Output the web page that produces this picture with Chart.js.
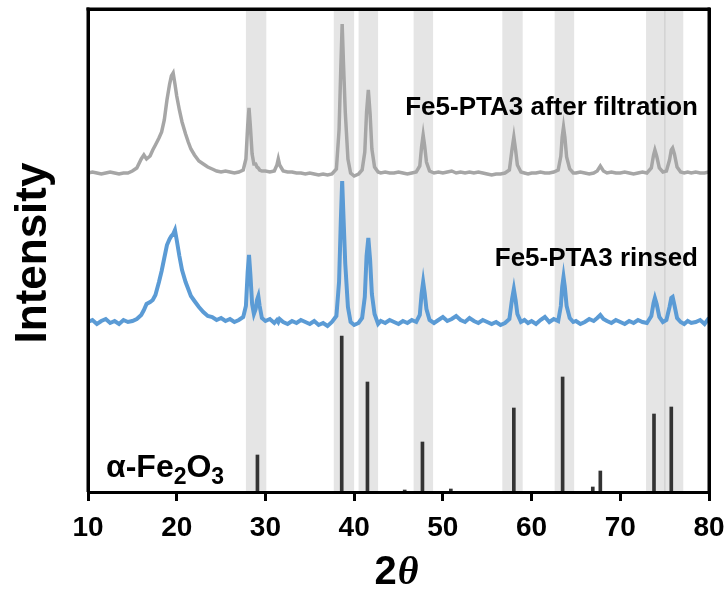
<!DOCTYPE html>
<html>
<head>
<meta charset="utf-8">
<script src="https://cdn.jsdelivr.net/npm/chart.js@4/dist/chart.umd.min.js"></script>
<style>
  html, body { margin: 0; padding: 0; background: #fff; overflow: hidden; }
  #wrap { position: relative; width: 727px; height: 592px; }
  canvas { display: block; }
  #frame { position: absolute; box-sizing: border-box; border: 3px solid #000; pointer-events: none; }
</style>
</head>
<body>
<div id="wrap"><canvas id="xrd" width="727" height="592"></canvas><div id="frame"></div></div>
<script>
// 2theta grid shared by both measured patterns
const twoTheta = [
  10, 10.5, 11, 11.5, 12, 12.5, 13, 13.5, 14, 14.5, 15, 15.5,
  16, 16.3, 16.6, 17, 17.3, 17.6, 18, 18.3, 18.6, 18.9, 19.2, 19.4, 19.6, 19.8, 20, 20.3, 20.6, 21, 21.3, 21.6,
  22, 22.5, 23, 23.5, 24, 24.5, 25, 25.5, 26, 26.5, 27, 27.5,
  27.8, 28, 28.15, 28.3, 28.5, 28.7, 28.9, 29.05, 29.2, 29.35, 29.6,
  30, 30.5, 31, 31.3, 31.45, 31.6, 32, 32.5, 33, 33.5, 34, 34.5, 35, 35.5, 36, 36.5, 37, 37.5,
  38, 38.3, 38.5, 38.65, 38.8, 39, 39.3, 39.6, 40, 40.5, 40.9, 41.2, 41.4, 41.6, 41.8, 42, 42.3, 42.7,
  43, 43.5, 44, 44.5, 45, 45.5, 46, 46.5, 47, 47.4,
  47.6, 47.78, 47.95, 48.15, 48.5,
  49, 49.5, 50, 50.5, 51, 51.5, 52, 52.5, 53, 53.5, 54, 54.5, 55, 55.5, 56, 56.5, 57, 57.5,
  57.8, 58.0, 58.2, 58.4, 58.8, 59.2, 59.6,
  60, 60.5, 61, 61.5, 62, 62.5, 63, 63.3,
  63.45, 63.6, 63.75, 63.95, 64.3, 64.7,
  65, 65.5, 66, 66.5, 67, 67.4, 67.75, 68.1, 68.5, 69, 69.5, 70, 70.5, 71, 71.5, 72, 72.5, 73, 73.5,
  73.75, 73.9, 74.1, 74.4, 74.8, 75.2, 75.55, 75.75, 75.9, 76.1, 76.4, 76.8, 77.2, 77.6, 78, 78.5, 79, 79.5, 80
];

// Fe5-PTA3 after filtration (offset, a.u.)
const afterFiltration = [
  319, 320, 319, 318, 319, 320, 319, 318, 319, 319, 321, 324,
  333, 337, 333, 336, 342, 347, 354, 360, 372, 392, 408, 416, 419, 408, 396, 382, 370, 358, 350, 343,
  337, 331, 328, 325, 323, 321, 320, 321, 320, 319, 320, 322,
  333, 366, 384, 366, 338, 328, 328, 325, 324, 322, 321,
  321, 320, 321, 327, 333, 327, 321, 320, 320, 319, 319, 318, 319, 318, 317, 318, 317, 318,
  323, 362, 425, 468, 428, 380, 333, 319, 316, 318, 322, 340, 380, 402, 378, 343, 325, 320,
  319, 320, 319, 319, 320, 319, 318, 319, 320, 326,
  345, 357, 346, 330, 321,
  319, 320, 319, 320, 321, 319, 320, 319, 320, 319, 320, 319, 318, 317, 318, 318, 319, 322,
  343, 355, 342, 327, 320, 319, 318,
  319, 319, 320, 319, 319, 320, 322, 336,
  355, 365, 355, 335, 323, 319,
  319, 320, 319, 318, 319, 321, 326, 321, 319, 320, 319, 319, 320, 319, 318, 319, 320, 319, 324,
  337, 342, 336, 324, 320, 321, 332, 342, 344, 338, 325, 320, 319, 320, 319, 320, 319, 319, 320
];

// Fe5-PTA3 rinsed (offset, a.u.)
const rinsed = [
  170, 172, 168, 171, 173, 169, 171, 168, 172, 170, 171, 173,
  177, 182, 188, 190, 192, 197, 210, 221, 234, 247, 253, 256, 258, 262, 252, 236, 222, 210, 203, 196,
  191, 185, 180, 176, 175, 172, 174, 171, 173, 170, 172, 175,
  186, 220, 237, 218, 188, 178, 183, 192, 196, 186, 174,
  171, 173, 169, 172, 170, 173, 170, 168, 171, 169, 172, 170, 168, 171, 167, 169, 166, 170,
  176, 210, 272, 311, 275, 228, 185, 170, 167, 169, 174, 195, 236, 254, 232, 198, 178, 168,
  171, 169, 172, 170, 168, 171, 169, 172, 170, 177,
  198, 210, 199, 183, 172,
  169, 172, 175, 171, 173, 176, 172, 170, 174, 171, 169, 172, 170, 168, 170, 167, 169, 173,
  193, 203, 192, 178, 170, 172, 169,
  171, 168, 172, 175, 170, 173, 171, 186,
  205, 215, 205, 186, 174, 170,
  171, 168, 170, 173, 171, 174, 177, 173, 171, 169, 172, 170, 168, 171, 169, 172, 170, 169, 176,
  189, 194, 188, 175, 170, 172, 185, 194, 195, 187, 174, 170, 168, 171, 169, 170, 172, 168, 174
];

// alpha-Fe2O3 reference lines
const refTheta = [29.1, 38.6, 41.5, 45.7, 47.7, 50.9, 58.0, 63.5, 66.9, 67.75, 73.8, 75.75];
const refIntensity = [37, 156, 110, 2, 50, 3, 84, 115, 5, 21, 78, 85];

// highlighted 2theta windows [from, to]
const bandFrom = [27.8, 37.7, 40.5, 46.7, 56.7, 62.6, 72.9, 74.95];
const bandTo   = [30.1, 40.0, 42.7, 48.9, 59.0, 64.8, 75.1, 77.1];

const FONT = "'Liberation Sans', Arial, sans-serif";
const SERIF = "'Liberation Serif', 'Times New Roman', serif";

const bandsPlugin = {
  id: 'bands',
  beforeDraw(chart) {
    const { ctx, chartArea: a, scales: { x } } = chart;
    ctx.save();
    ctx.fillStyle = 'rgba(0,0,0,0.1)';
    bandFrom.forEach((f, i) => {
      const x0 = x.getPixelForValue(f), x1 = x.getPixelForValue(bandTo[i]);
      ctx.fillRect(x0, a.top, x1 - x0, a.bottom - a.top);
    });
    ctx.restore();
  }
};

const labelsPlugin = {
  id: 'labels',
  afterDraw(chart) {
    const { ctx } = chart;
    ctx.save();
    ctx.fillStyle = '#000';
    ctx.textAlign = 'right';
    ctx.textBaseline = 'alphabetic';
    ctx.font = 'bold 26px ' + FONT;
    ctx.fillText('Fe5-PTA3 after filtration', 698, 115);
    ctx.fillText('Fe5-PTA3 rinsed', 698, 266);

    // alpha-Fe2O3 label with subscripts
    ctx.textAlign = 'left';
    let px = 106;
    const parts = [['α-Fe', 32, 0], ['2', 23, 7], ['O', 32, 0], ['3', 23, 7]];
    parts.forEach(([t, s, dy]) => {
      ctx.font = 'bold ' + s + 'px ' + FONT;
      ctx.fillText(t, px, 477 + dy);
      px += ctx.measureText(t).width;
    });

    // y title
    ctx.save();
    ctx.translate(46, 253);
    ctx.rotate(-Math.PI / 2);
    ctx.textAlign = 'center';
    ctx.font = 'bold 44px ' + FONT;
    ctx.fillText('Intensity', 0, 0);
    ctx.restore();

    // x title: bold 2 + italic theta
    ctx.font = 'bold 40px ' + FONT;
    const w2 = ctx.measureText('2').width;
    ctx.font = 'bold italic 40px ' + SERIF;
    const wt = ctx.measureText('θ').width;
    const sx = 396 - (w2 + wt) / 2;
    ctx.font = 'bold 40px ' + FONT;
    ctx.fillText('2', sx, 584);
    ctx.font = 'bold italic 40px ' + SERIF;
    ctx.fillText('θ', sx + w2 + 1, 584);
    ctx.restore();
  }
};

// plot frame: canvas strokes plus an overlay box placed on the chart area
const framePlugin = {
  id: 'frame',
  afterDraw(chart) {
    const { ctx, chartArea: a } = chart;
    ctx.save();
    ctx.fillStyle = '#000';
    ctx.fillRect(a.left - 1.5, a.top - 1.5, a.right - a.left + 3, 3);
    ctx.fillRect(a.left - 1.5, a.top - 1.5, 3, a.bottom - a.top + 1.5);
    ctx.fillRect(a.right - 1.5, a.top - 1.5, 3, a.bottom - a.top + 1.5);
    ctx.restore();

    const box = document.getElementById('frame');
    box.style.left = (a.left - 1.5) + 'px';
    box.style.top = (a.top - 1.5) + 'px';
    box.style.width = (a.right - a.left + 3) + 'px';
    box.style.height = (a.bottom - a.top + 3) + 'px';
  }
};

new Chart(document.getElementById('xrd'), {
  type: 'line',
  data: {
    datasets: [
      {
        label: 'Fe5-PTA3 after filtration',
        data: twoTheta.map((t, i) => ({ x: t, y: afterFiltration[i] })),
        borderColor: '#a6a6a6',
        borderWidth: 3.5,
        pointRadius: 0,
        tension: 0
      },
      {
        label: 'Fe5-PTA3 rinsed',
        data: twoTheta.map((t, i) => ({ x: t, y: rinsed[i] })),
        borderColor: '#5b9bd5',
        borderWidth: 4,
        pointRadius: 0,
        tension: 0
      },
      {
        type: 'bar',
        label: 'α-Fe2O3',
        data: refTheta.map((t, i) => ({ x: t, y: refIntensity[i] })),
        backgroundColor: '#333333',
        barThickness: 3
      }
    ]
  },
  options: {
    responsive: false,
    animation: false,
    layout: { padding: { left: 88, right: 18, top: 9, bottom: 0 } },
    plugins: { legend: { display: false }, tooltip: { enabled: false } },
    scales: {
      x: {
        type: 'linear',
        min: 10,
        max: 80,
        offset: false,
        afterFit: (s) => { s.height = 100; s.paddingRight = 0; s.paddingLeft = 0; },
        grid: { offset: false, drawOnChartArea: false, tickLength: 9, tickWidth: 3, tickColor: '#000', color: '#000' },
        border: { display: true, color: '#000', width: 3 },
        ticks: { stepSize: 10, color: '#000', padding: 10, font: { family: FONT, size: 28, weight: 'bold' }, maxRotation: 0 }
      },
      y: { display: false, min: 0, max: 483 }
    }
  },
  plugins: [bandsPlugin, labelsPlugin, framePlugin]
});
</script>
</body>
</html>
